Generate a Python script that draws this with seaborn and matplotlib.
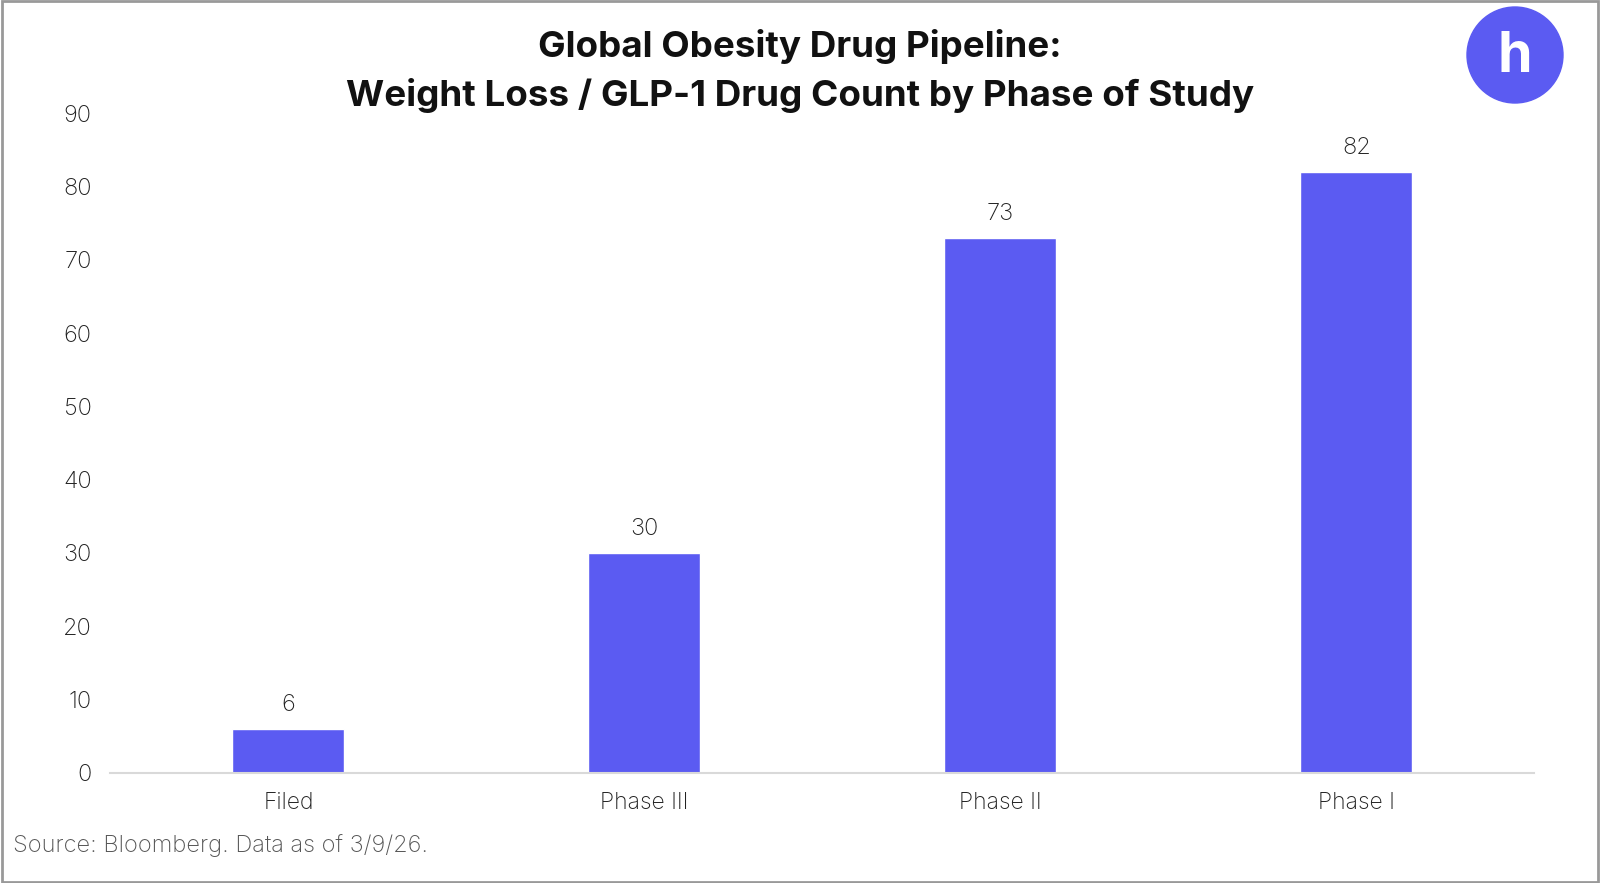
import matplotlib
matplotlib.use("Agg")
import matplotlib.pyplot as plt
import matplotlib.patches as mpatches
import seaborn as sns
import pandas as pd

phases = ["Filed", "Phase III", "Phase II", "Phase I"]
counts = [6, 30, 73, 82]
yticks = [0, 10, 20, 30, 40, 50, 60, 70, 80, 90]

sns.set_theme(style="white")
plt.rcParams['font.family'] = ['Inter', 'DejaVu Sans']

df = pd.DataFrame({"phase": phases, "count": counts})

fig = plt.figure(figsize=(16, 8.83), dpi=100)
ax = fig.add_axes([0.069, 0.1246, 0.89, 0.7474])
sns.barplot(data=df, x="phase", y="count", color="#5B5BF2", saturation=1,
            width=0.315, ax=ax)

ax.set_ylim(0, 90)
ax.set_yticks(yticks)
ax.set_yticklabels([str(v) for v in yticks], fontsize=17, color="#222222",
                   fontweight="light")
for lab in ax.get_xticklabels():
    lab.set_fontweight("light")
ax.tick_params(axis="x", labelsize=16.5, labelcolor="#222222", pad=14, length=0)
ax.tick_params(axis="y", pad=13.5, length=0)
ax.set_xlabel("")
ax.set_ylabel("")
for s in ["top", "right", "left"]:
    ax.spines[s].set_visible(False)
ax.spines["bottom"].set_color("#d9d9d9")
ax.spines["bottom"].set_linewidth(1.5)
ax.grid(False)

for p, v in zip(ax.patches, counts):
    ax.annotate(str(v), (p.get_x() + p.get_width() / 2, p.get_height()),
                xytext=(0, 9), textcoords="offset points",
                ha="center", va="bottom", fontsize=17, color="#222222",
                fontweight="light")

fig.text(0.5, 0.967, "Global Obesity Drug Pipeline:\nWeight Loss / GLP-1 Drug Count by Phase of Study",
         ha="center", va="top", fontsize=26.5, fontweight="bold", color="#111111",
         linespacing=1.5)

fig.text(0.008, 0.042, "Source: Bloomberg. Data as of 3/9/26.", ha="left", va="center",
         fontsize=17, color="#555555", fontweight="light")

# logo
ell = mpatches.Ellipse((1515 / 1600, 1 - 55 / 883), 96 / 1600, 96 / 883,
                       transform=fig.transFigure, color="#5B5BF2", zorder=5)
fig.patches.append(ell)
fig.text(1515 / 1600, 1 - 57 / 883, "h", ha="center", va="center", fontsize=40,
         fontweight="bold", color="white", zorder=6)

# border
border = mpatches.Rectangle((0.001, 0.001), 0.998, 0.998, transform=fig.transFigure,
                            fill=False, edgecolor="#999999", linewidth=2)
fig.patches.append(border)

fig.savefig("out.png", dpi=100)
